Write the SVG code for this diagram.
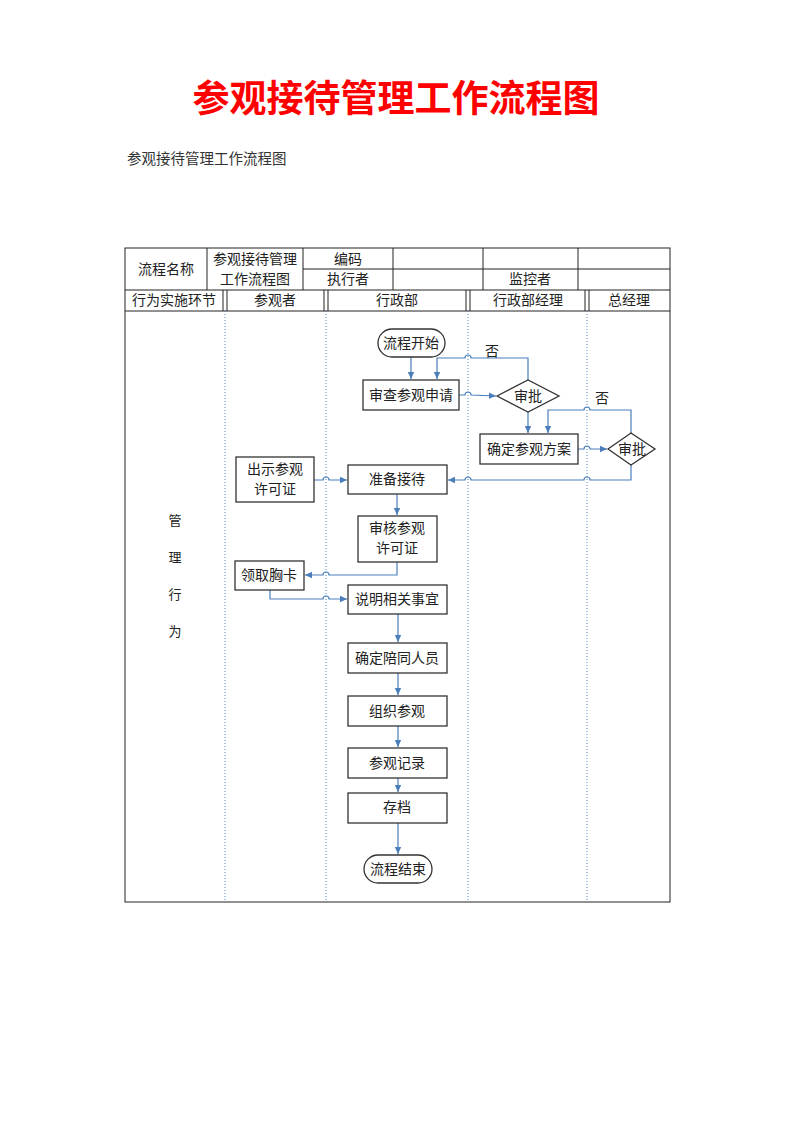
<svg xmlns="http://www.w3.org/2000/svg" width="794" height="1123" viewBox="0 0 794 1123">
<defs>
<marker id="ah" markerWidth="8" markerHeight="8" refX="7" refY="4" orient="auto" markerUnits="userSpaceOnUse">
<path d="M0,0.8 L7,4 L0,7.2 Z" fill="#4a7ebb"/>
</marker>
</defs>
<style>
.t{font-family:"Liberation Serif","Noto Sans CJK SC",serif;font-size:14px;fill:#222;text-anchor:middle;}
.box{fill:#fff;stroke:#333;stroke-width:1.3;}
.cell{fill:none;stroke:#222;stroke-width:1;}
.lane{stroke:#4F81BD;stroke-width:1;stroke-dasharray:1,2;}
.c{fill:none;stroke:#4a7ebb;stroke-width:1.2;}
</style>
<rect width="794" height="1123" fill="#fff"/>
<text x="396" y="112" style="font-family:'Liberation Sans','Noto Sans CJK SC',sans-serif;font-size:37px;font-weight:bold;fill:#ff0000;text-anchor:middle">参观接待管理工作流程图</text>
<text x="127" y="164" style="font-family:'Liberation Serif','Noto Sans CJK SC',serif;font-size:14.5px;fill:#333">参观接待管理工作流程图</text>

<g id="table">
<rect class="cell" x="125" y="248" width="545" height="654"/>
<line class="cell" x1="207" y1="248" x2="207" y2="290"/>
<line class="cell" x1="303" y1="248" x2="303" y2="290"/>
<line class="cell" x1="393" y1="248" x2="393" y2="290"/>
<line class="cell" x1="483" y1="248" x2="483" y2="290"/>
<line class="cell" x1="578" y1="248" x2="578" y2="290"/>
<line class="cell" x1="303" y1="269" x2="670" y2="269"/>
<line class="cell" x1="125" y1="290" x2="670" y2="290"/>
<line class="cell" x1="125" y1="311" x2="670" y2="311"/>
<line class="cell" x1="223" y1="290" x2="223" y2="311"/>
<line class="cell" x1="227" y1="290" x2="227" y2="311"/>
<line class="cell" x1="324" y1="290" x2="324" y2="311"/>
<line class="cell" x1="328" y1="290" x2="328" y2="311"/>
<line class="cell" x1="466" y1="290" x2="466" y2="311"/>
<line class="cell" x1="470" y1="290" x2="470" y2="311"/>
<line class="cell" x1="585" y1="290" x2="585" y2="311"/>
<line class="cell" x1="589" y1="290" x2="589" y2="311"/>
<text class="t" x="166" y="274">流程名称</text>
<text class="t" x="255" y="264">参观接待管理</text>
<text class="t" x="255" y="284">工作流程图</text>
<text class="t" x="348" y="264">编码</text>
<text class="t" x="348" y="284">执行者</text>
<text class="t" x="530" y="284">监控者</text>
<text class="t" x="174" y="305">行为实施环节</text>
<text class="t" x="275" y="305">参观者</text>
<text class="t" x="397" y="305">行政部</text>
<text class="t" x="528" y="305">行政部经理</text>
<text class="t" x="629" y="305">总经理</text>
<text class="t" x="175" y="525" style="font-size:13px">管</text>
<text class="t" x="175" y="562" style="font-size:13px">理</text>
<text class="t" x="175" y="599" style="font-size:13px">行</text>
<text class="t" x="175" y="636" style="font-size:13px">为</text>
</g>

<g id="lanes">
<line class="lane" x1="225" y1="311" x2="225" y2="902"/>
<line class="lane" x1="326" y1="311" x2="326" y2="902"/>
<line class="lane" x1="468" y1="311" x2="468" y2="902"/>
<line class="lane" x1="587" y1="311" x2="587" y2="902"/>
</g>

<g id="connectors">
<path class="c" d="M411,357 L411,379" marker-end="url(#ah)"/>
<path class="c" d="M459,395 L465,395 A3,3 0 0 1 471,395 L496,396" marker-end="url(#ah)"/>
<path class="c" d="M528,380 L528,358 L471,358 A3,3 0 0 0 465,358 L437,358 L437,379" marker-end="url(#ah)"/>
<path class="c" d="M528,412 L528,433" marker-end="url(#ah)"/>
<path class="c" d="M578,449 L584,449 A3,3 0 0 1 590,449 L607,449" marker-end="url(#ah)"/>
<path class="c" d="M631,433 L631,410 L590,410 A3,3 0 0 0 584,410 L548,410 L548,433" marker-end="url(#ah)"/>
<path class="c" d="M631,465 L631,480 L590,480 A3,3 0 0 0 584,480 L471,480 A3,3 0 0 0 465,480 L448,480" marker-end="url(#ah)"/>
<path class="c" d="M314,480 L323,480 A3,3 0 0 1 329,480 L347,480" marker-end="url(#ah)"/>
<path class="c" d="M397,494 L397,515" marker-end="url(#ah)"/>
<path class="c" d="M397,562 L397,575 L329,575 A3,3 0 0 0 323,575 L305,575" marker-end="url(#ah)"/>
<path class="c" d="M270,590 L270,599 L323,599 A3,3 0 0 1 329,599 L347,599" marker-end="url(#ah)"/>
<path class="c" d="M398,614 L398,642" marker-end="url(#ah)"/>
<path class="c" d="M398,673 L398,695" marker-end="url(#ah)"/>
<path class="c" d="M398,726 L398,747" marker-end="url(#ah)"/>
<path class="c" d="M398,778 L398,792" marker-end="url(#ah)"/>
<path class="c" d="M398,823 L398,854" marker-end="url(#ah)"/>
<text class="t" x="492" y="356">否</text>
<text class="t" x="602" y="403">否</text>
</g>

<g id="n-start"><rect class="box" x="378" y="329" width="67" height="28" rx="14"/><text class="t" x="411" y="348">流程开始</text></g>
<g id="n-review"><rect class="box" x="363" y="380" width="96" height="30"/><text class="t" x="411" y="400">审查参观申请</text></g>
<g id="n-approve1"><path class="box" d="M497,396 L528,380 L559,396 L528,412 Z"/><text class="t" x="528" y="401">审批</text></g>
<g id="n-plan"><rect class="box" x="480" y="434" width="98" height="30"/><text class="t" x="529" y="454">确定参观方案</text></g>
<g id="n-approve2"><path class="box" d="M608,449 L631,433 L655,449 L631,465 Z"/><text class="t" x="632" y="454">审批</text></g>
<g id="n-show"><rect class="box" x="236" y="457" width="78" height="45"/><text class="t" x="275" y="474">出示参观</text><text class="t" x="275" y="494">许可证</text></g>
<g id="n-prepare"><rect class="box" x="348" y="465" width="99" height="29"/><text class="t" x="397" y="484">准备接待</text></g>
<g id="n-check"><rect class="box" x="358" y="516" width="79" height="46"/><text class="t" x="397" y="533">审核参观</text><text class="t" x="397" y="553">许可证</text></g>
<g id="n-badge"><rect class="box" x="235" y="561" width="69" height="29"/><text class="t" x="269" y="580">领取胸卡</text></g>
<g id="n-explain"><rect class="box" x="348" y="585" width="99" height="29"/><text class="t" x="397" y="604">说明相关事宜</text></g>
<g id="n-escort"><rect class="box" x="348" y="643" width="99" height="30"/><text class="t" x="397" y="663">确定陪同人员</text></g>
<g id="n-organize"><rect class="box" x="348" y="696" width="99" height="30"/><text class="t" x="397" y="716">组织参观</text></g>
<g id="n-record"><rect class="box" x="348" y="748" width="99" height="30"/><text class="t" x="397" y="768">参观记录</text></g>
<g id="n-archive"><rect class="box" x="348" y="793" width="99" height="30"/><text class="t" x="397" y="812">存档</text></g>
<g id="n-end"><rect class="box" x="364" y="855" width="68" height="28" rx="14"/><text class="t" x="398" y="874">流程结束</text></g>
</svg>
